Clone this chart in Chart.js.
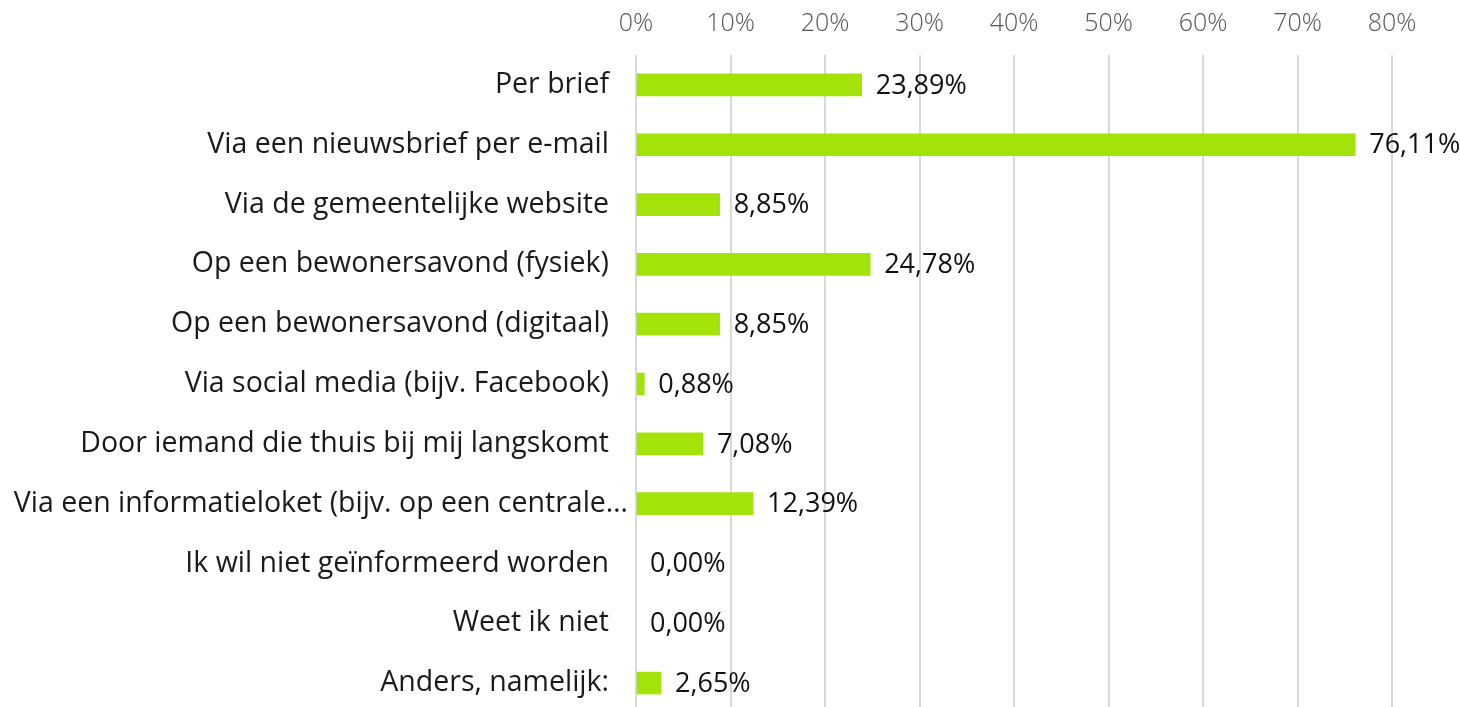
<!DOCTYPE html>
<html>
<head>
<meta charset="utf-8">
<script src="https://cdn.jsdelivr.net/npm/chart.js@4/dist/chart.umd.min.js"></script>
<style>
    html, body { margin: 0; padding: 0; background: #fff; overflow: hidden; }
    canvas { display: block; }
</style>
</head>
<body>
<canvas id="barChart" width="1460" height="713"></canvas>
<script>
const categories = [
    "Per brief",
    "Via een nieuwsbrief per e-mail",
    "Via de gemeentelijke website",
    "Op een bewonersavond (fysiek)",
    "Op een bewonersavond (digitaal)",
    "Via social media (bijv. Facebook)",
    "Door iemand die thuis bij mij langskomt",
    "Via een informatieloket (bijv. op een centrale…",
    "Ik wil niet geïnformeerd worden",
    "Weet ik niet",
    "Anders, namelijk:"
];
const percentages = [23.89, 76.11, 8.85, 24.78, 8.85, 0.88, 7.08, 12.39, 0, 0, 2.65];
const tickValues = [0, 10, 20, 30, 40, 50, 60, 70, 80];

const fontFamily = "'Open Sans', 'Noto Sans', sans-serif";

// category labels; the truncated one runs closer to the axis, like in Excel
const categoryLabels = {
    id: "categoryLabels",
    afterDraw(chart) {
        const ctx = chart.ctx;
        const y = chart.scales.y;
        ctx.save();
        ctx.font = "400 28.5px " + fontFamily;
        ctx.fillStyle = "#1a1a1a";
        ctx.textBaseline = "middle";
        ctx.textAlign = "right";
        categories.forEach((label, i) => {
            const right = label.endsWith("…") ? y.right - 8 : y.right - 27;
            ctx.fillText(label, right, y.getPixelForTick(i));
        });
        ctx.restore();
    }
};

// labels next to each bar, e.g. "23,89%"
const valueLabels = {
    id: "valueLabels",
    afterDatasetsDraw(chart) {
        const ctx = chart.ctx;
        const meta = chart.getDatasetMeta(0);
        ctx.save();
        ctx.font = "400 27px " + fontFamily;
        ctx.fillStyle = "#111";
        ctx.textBaseline = "middle";
        ctx.textAlign = "left";
        meta.data.forEach((bar, i) => {
            const txt = percentages[i].toFixed(2).replace(".", ",") + "%";
            ctx.fillText(txt, bar.x + 14, bar.y + 1);
        });
        ctx.restore();
    }
};

const ctx = document.getElementById("barChart");
new Chart(ctx.getContext("2d"), {
    type: "bar",
    data: {
        labels: categories,
        datasets: [
            {
                data: percentages,
                backgroundColor: (c) => (percentages[c.dataIndex] > 0 ? "#a3e30a" : "rgba(0,0,0,0)"),
                borderWidth: 0,
                barThickness: 22,
            },
        ],
    },
    options: {
        indexAxis: "y",
        responsive: false,
        animation: false,
        layout: { padding: { left: 0, right: 68, top: 0, bottom: 0 } },
        plugins: {
            legend: { display: false },
            tooltip: { enabled: false },
        },
        scales: {
            x: {
                position: "top",
                min: 0,
                max: 80,
                afterBuildTicks: (s) => { s.ticks = tickValues.map(v => ({ value: v })); },
                afterFit: (s) => { s.height = 55; },
                grid: {
                    color: "#d9d9d9",
                    lineWidth: 2,
                    drawTicks: false,
                },
                border: { display: false },
                ticks: {
                    padding: 16,
                    color: "#555",
                    font: { family: fontFamily, size: 25, weight: "300" },
                    callback: (v) => v + "%",
                },
            },
            y: {
                afterFit: (s) => { s.width = 636; },
                grid: { display: false, drawTicks: false },
                border: { display: false },
                ticks: { display: false },
            },
        },
    },
    plugins: [valueLabels, categoryLabels],
});
</script>
</body>
</html>
